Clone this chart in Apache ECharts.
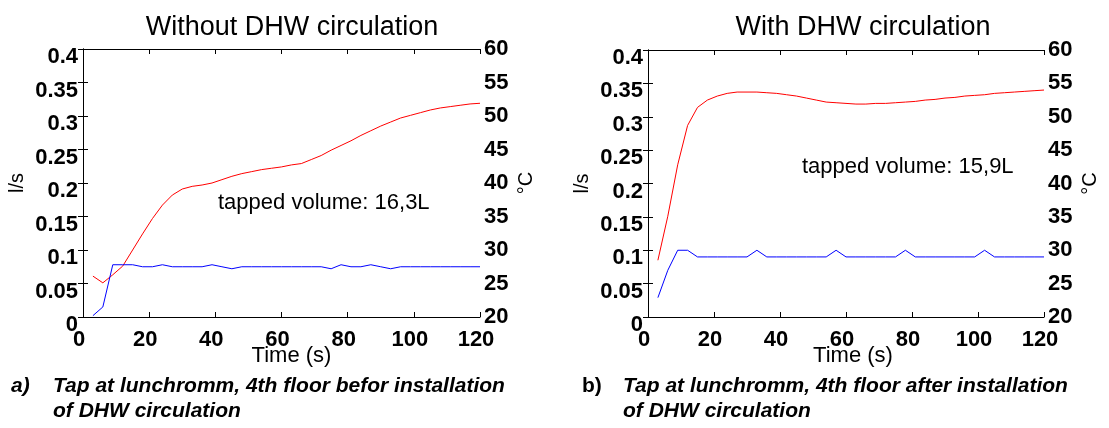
<!DOCTYPE html>
<html>
<head>
<meta charset="utf-8">
<script src="https://cdn.jsdelivr.net/npm/echarts@6/dist/echarts.min.js"></script>
<style>
  html, body { margin: 0; padding: 0; background: #fff; }
  #chart { width: 1109px; height: 428px; }
</style>
</head>
<body>
<div id="chart"></div>
<script>
// sample times (s), shared by both taps
const timeSec = [3, 6, 9, 12, 15, 18, 21, 24, 27, 30, 33, 36, 39, 42, 45, 48, 51, 54, 57, 60,
  63, 66, 69, 72, 75, 78, 81, 84, 87, 90, 93, 96, 99, 102, 105, 108, 111, 114, 117, 120];

// a) without DHW circulation
const flowA = [0.002, 0.015, 0.078, 0.078, 0.078, 0.075, 0.075, 0.078, 0.075, 0.075,
  0.075, 0.075, 0.078, 0.075, 0.072, 0.075, 0.075, 0.075, 0.075, 0.075,
  0.075, 0.075, 0.075, 0.075, 0.072, 0.078, 0.075, 0.075, 0.078, 0.075,
  0.072, 0.075, 0.075, 0.075, 0.075, 0.075, 0.075, 0.075, 0.075, 0.075];
const tempA = [26.1, 25.1, 26.3, 27.6, 30.0, 32.4, 34.7, 36.7, 38.2, 39.1,
  39.5, 39.7, 40.0, 40.5, 41.0, 41.4, 41.7, 42.0, 42.2, 42.4,
  42.7, 42.9, 43.5, 44.1, 44.9, 45.6, 46.3, 47.1, 47.8, 48.5,
  49.1, 49.7, 50.1, 50.5, 50.9, 51.2, 51.4, 51.6, 51.8, 51.9];

// b) with DHW circulation
const flowB = [0.029, 0.07, 0.1, 0.1, 0.09, 0.09, 0.09, 0.09, 0.09, 0.09,
  0.1, 0.09, 0.09, 0.09, 0.09, 0.09, 0.09, 0.09, 0.1, 0.09,
  0.09, 0.09, 0.09, 0.09, 0.09, 0.1, 0.09, 0.09, 0.09, 0.09,
  0.09, 0.09, 0.09, 0.1, 0.09, 0.09, 0.09, 0.09, 0.09, 0.09];
const tempB = [28.5, 35.1, 42.8, 48.7, 51.4, 52.5, 53.1, 53.5, 53.7, 53.7,
  53.7, 53.6, 53.5, 53.3, 53.1, 52.8, 52.5, 52.2, 52.1, 52.0,
  51.9, 51.9, 52.0, 52.0, 52.1, 52.2, 52.3, 52.5, 52.6, 52.8,
  52.9, 53.1, 53.2, 53.3, 53.5, 53.6, 53.7, 53.8, 53.9, 54.0];

const titles = ['Without DHW circulation', 'With DHW circulation'];
const volumes = ['tapped volume: 16,3L', 'tapped volume: 15,9L'];

const font = '"Liberation Sans", Arial, Helvetica, sans-serif';
const black = '#000';

function pairs(ys) {
  return timeSec.map(function (t, i) { return [t, ys[i]]; });
}

function xAxes(gridIndex, shiftName) {
  return [
    {
      gridIndex: gridIndex, type: 'value', position: 'bottom',
      min: 0, max: 120, interval: 20,
      name: 'Time (s)', nameLocation: 'middle', nameGap: 28, nameMoveOverlap: false,
      nameTextStyle: { fontFamily: font, fontSize: 22, color: black, padding: [0, 0, 0, shiftName] },
      axisLine: { show: true, lineStyle: { color: black, width: 1 } },
      axisTick: { show: true, inside: true, length: 5, lineStyle: { color: black } },
      axisLabel: { fontFamily: font, fontSize: 22, fontWeight: 'bold', color: black, margin: 12, padding: [0, 8, 0, 0] },
      splitLine: { show: false }
    },
    {
      gridIndex: gridIndex, type: 'value', position: 'top',
      min: 0, max: 120, interval: 20,
      axisLine: { show: true, lineStyle: { color: black, width: 1 } },
      axisTick: { show: true, inside: true, length: 5, lineStyle: { color: black } },
      axisLabel: { show: false },
      splitLine: { show: false }
    }
  ];
}

function yAxes(gridIndex) {
  return [
    {
      gridIndex: gridIndex, type: 'value', position: 'left',
      min: 0, max: 0.4, interval: 0.05,
      name: 'l/s', nameLocation: 'middle', nameGap: 56, nameRotate: 90,
      nameTextStyle: { fontFamily: font, fontSize: 20, color: black },
      axisLine: { show: true, lineStyle: { color: black, width: 1 } },
      axisTick: { show: true, inside: true, length: 5, lineStyle: { color: black } },
      axisLabel: { fontFamily: font, fontSize: 22, fontWeight: 'bold', color: black, margin: 5,
        verticalAlign: 'top', lineHeight: 16 },
      splitLine: { show: false }
    },
    {
      gridIndex: gridIndex, type: 'value', position: 'right',
      min: 20, max: 60, interval: 5,
      name: '°C', nameLocation: 'middle', nameGap: 36, nameRotate: 90,
      nameTextStyle: { fontFamily: font, fontSize: 20, color: black },
      axisLine: { show: true, lineStyle: { color: black, width: 1 } },
      axisTick: { show: true, inside: true, length: 5, lineStyle: { color: black } },
      axisLabel: { fontFamily: font, fontSize: 22, fontWeight: 'bold', color: black, margin: 4 },
      splitLine: { show: false }
    }
  ];
}

function line(xi, yi, data, color) {
  return {
    type: 'line', xAxisIndex: xi, yAxisIndex: yi,
    data: data, showSymbol: false, smooth: false,
    lineStyle: { color: color, width: 1 }, itemStyle: { color: color }
  };
}

const captionStyle = { fontFamily: font, fontSize: 21, fontWeight: 'bold', fontStyle: 'italic', fill: black };

const chart = echarts.init(document.getElementById('chart'));
chart.setOption({
  animation: false,
  backgroundColor: '#fff',
  title: [
    { text: titles[0], left: 287, top: 9, textAlign: 'center',
      textStyle: { fontFamily: font, fontSize: 27, fontWeight: 'normal', color: black } },
    { text: titles[1], left: 858, top: 9, textAlign: 'center',
      textStyle: { fontFamily: font, fontSize: 27, fontWeight: 'normal', color: black } }
  ],
  grid: [
    { left: 83, right: 629, top: 49, bottom: 111 },
    { left: 648, right: 65, top: 50, bottom: 111 }
  ],
  xAxis: xAxes(0, 20).concat(xAxes(1, 14)),
  yAxis: yAxes(0).concat(yAxes(1)),
  series: [
    line(0, 1, pairs(tempA), '#ff0000'),
    line(0, 0, pairs(flowA), '#0000ff'),
    line(2, 3, pairs(tempB), '#ff0000'),
    line(2, 2, pairs(flowB), '#0000ff')
  ],
  graphic: [
    { type: 'text', left: 218, top: 192, style: { text: volumes[0], font: '22px ' + font, fill: black } },
    { type: 'text', left: 802, top: 156, style: { text: volumes[1], font: '22px ' + font, fill: black } },
    { type: 'text', left: 11, top: 376, style: Object.assign({ text: 'a)' }, captionStyle) },
    { type: 'text', left: 53, top: 376, style: Object.assign({ text: 'Tap at lunchromm, 4th floor befor installation' }, captionStyle) },
    { type: 'text', left: 53, top: 401, style: Object.assign({ text: 'of DHW circulation' }, captionStyle) },
    { type: 'text', left: 582, top: 376, style: { text: 'b)', fontFamily: font, fontSize: 21, fontWeight: 'bold', fill: black } },
    { type: 'text', left: 623, top: 376, style: Object.assign({ text: 'Tap at lunchromm, 4th floor after installation' }, captionStyle) },
    { type: 'text', left: 623, top: 401, style: Object.assign({ text: 'of DHW circulation' }, captionStyle) }
  ]
});
</script>
</body>
</html>
